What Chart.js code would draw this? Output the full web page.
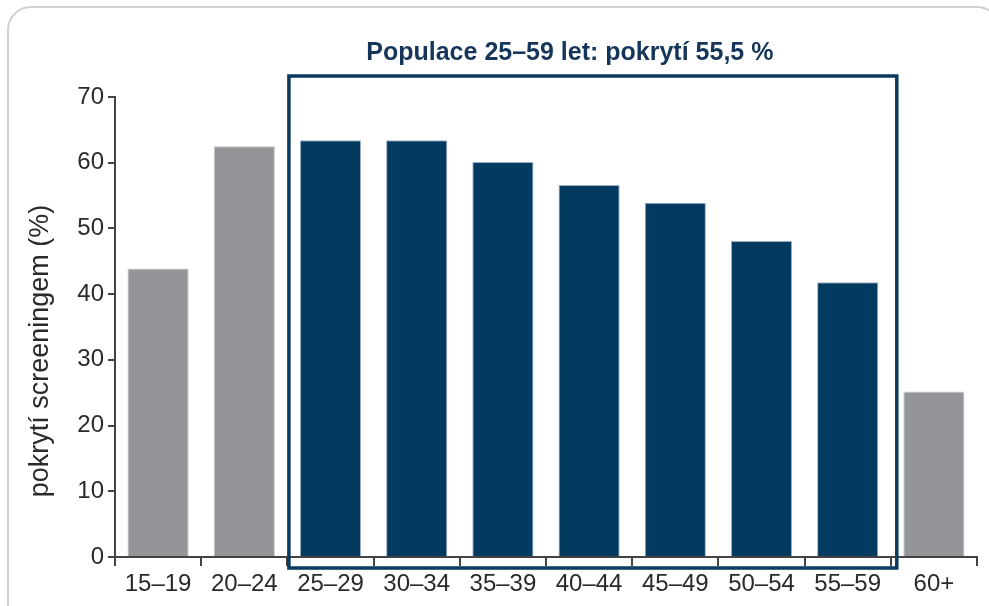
<!DOCTYPE html>
<html lang="cs">
<head>
<meta charset="utf-8">
<title>Pokrytí screeningem</title>
<script src="https://cdn.jsdelivr.net/npm/chart.js@4.4.1/dist/chart.umd.min.js"></script>
<style>
    html, body { margin: 0; padding: 0; background: #fff; }
    #wrap { position: relative; width: 989px; height: 606px; overflow: hidden; }
    #ramecek {
        position: absolute; left: 7px; top: 6px; width: 990px; height: 700px;
        border: 2px solid #d0d0d0; border-radius: 24px;
    }
    #graf { position: absolute; left: 0; top: 0; }
</style>
</head>
<body>
<div id="wrap">
    <div id="ramecek"></div>
    <canvas id="graf" width="989" height="606"></canvas>
</div>
<script>
// Data
const vekoveSkupiny = ['15–19', '20–24', '25–29', '30–34', '35–39', '40–44', '45–49', '50–54', '55–59', '60+'];
const pokryti = [43.9, 62.5, 63.4, 63.4, 60.1, 56.6, 53.9, 48.1, 41.8, 25.2];
const cilovaSkupina = [false, false, true, true, true, true, true, true, true, false];
const yTicks = [0, 10, 20, 30, 40, 50, 60, 70];

const nadpis = 'Populace 25–59 let: pokrytí 55,5 %';
const popisY = 'pokrytí screeningem (%)';

const modra = '#023a60';
const seda = '#939598';

// Ramecek kolem cilove populace + texty
const ramecekPlugin = {
    id: 'ramecekPlugin',
    afterDatasetsDraw(chart) {
        const ctx = chart.ctx;
        const x = chart.scales.x;
        const y = chart.scales.y;
        const left = x.getPixelForValue(1.5) + 1.5;
        const right = x.getPixelForValue(8.5) + 6;
        const top = y.getPixelForValue(70) - 21;
        const bottom = y.getPixelForValue(0) + 11;

        ctx.save();
        ctx.strokeStyle = '#0a3a5f';
        ctx.lineWidth = 3.5;
        ctx.strokeRect(left, top, right - left, bottom - top);

        ctx.fillStyle = '#15365a';
        ctx.font = 'bold 25px "Liberation Sans", Arial, sans-serif';
        ctx.textAlign = 'center';
        ctx.textBaseline = 'alphabetic';
        ctx.fillText(nadpis, (left + right) / 2 - 23, 60);

        ctx.translate(41, 351);
        ctx.rotate(-Math.PI / 2);
        ctx.fillStyle = '#2a2a2a';
        ctx.font = '27px "Liberation Sans", Arial, sans-serif';
        ctx.textBaseline = 'middle';
        ctx.fillText(popisY, 0, 0);
        ctx.restore();
    }
};

const ctx = document.getElementById('graf').getContext('2d');
new Chart(ctx, {
    type: 'bar',
    data: {
        labels: vekoveSkupiny,
        datasets: [{
            data: pokryti,
            backgroundColor: cilovaSkupina.map(c => c ? modra : seda),
            borderColor: cilovaSkupina.map(c => c ? '#9fb3c8' : '#c4c5c7'),
            borderWidth: 1,
            barPercentage: 0.71,
            categoryPercentage: 1
        }]
    },
    options: {
        responsive: false,
        animation: false,
        layout: { padding: { left: 0, top: 97, right: 12, bottom: 0 } },
        plugins: {
            legend: { display: false },
            tooltip: { enabled: false }
        },
        scales: {
            x: {
                afterFit(scale) { scale.height = 49; },
                grid: { drawOnChartArea: false, drawTicks: true, tickLength: 9, color: '#444', lineWidth: 2, offset: true },
                border: { display: true, color: '#444', width: 2 },
                ticks: {
                    color: '#2a2a2a',
                    padding: 4,
                    font: { family: '"Liberation Sans", Arial, sans-serif', size: 24 }
                }
            },
            y: {
                min: 0,
                max: 70,
                afterFit(scale) { scale.width = 115; },
                afterBuildTicks(scale) { scale.ticks = yTicks.map(v => ({ value: v })); },
                grid: { drawOnChartArea: false, drawTicks: true, tickLength: 7, color: '#444', lineWidth: 2 },
                border: { display: true, color: '#444', width: 2 },
                ticks: {
                    color: '#2a2a2a',
                    padding: 4,
                    font: { family: '"Liberation Sans", Arial, sans-serif', size: 24 }
                }
            }
        }
    },
    plugins: [ramecekPlugin]
});
</script>
</body>
</html>
